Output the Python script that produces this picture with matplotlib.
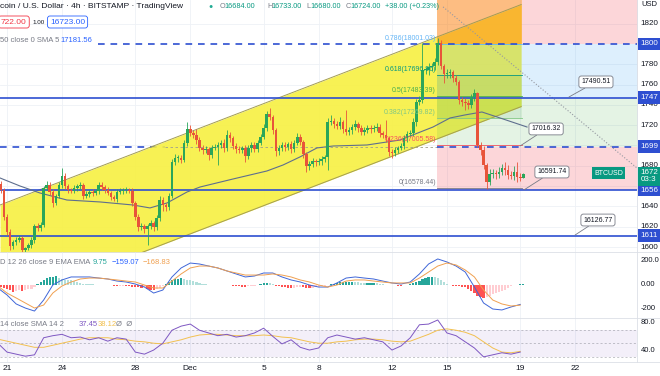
import numpy as np
import matplotlib
matplotlib.use("Agg")
import matplotlib.pyplot as plt
from matplotlib import transforms
from matplotlib.lines import Line2D

plt.rcParams["font.family"] = ["Liberation Sans", "DejaVu Sans"]

W, H = 660, 376

# 4h candles, Nov 20 16:00 -> Dec 19 04:00 (x axis in days from Nov 21)
first_open = 16620
closes = [
    16562, 16296, 16148, 16010, 16049, 16069, 16089, 15970, 15990, 16020, 16069, 16207,
    16187, 16217, 16581, 16611, 16542, 16434, 16503, 16611, 16700, 16601, 16562, 16552,
    16581, 16601, 16611, 16503, 16522, 16542, 16532, 16552, 16611, 16591, 16562, 16532,
    16493, 16473, 16542, 16552, 16562, 16562, 16552, 16434, 16296, 16197, 16207, 16177,
    16207, 16237, 16197, 16286, 16463, 16414, 16394, 16503, 16838, 16877, 16877, 16857,
    17025, 17163, 17123, 17104, 17054, 16976, 16956, 16966, 16906, 16976, 16985, 17005,
    17025, 16976, 17104, 17074, 16995, 16966, 16956, 16976, 16897, 16976, 17005, 16966,
    17025, 17084, 17173, 17310, 17281, 17153, 16946, 16976, 17005, 16985, 17015, 16966,
    17025, 17084, 17035, 16916, 16798, 16818, 16847, 16838, 16847, 16867, 16887, 17232,
    17241, 17212, 17192, 17232, 17163, 17133, 17153, 17182, 17212, 17173, 17133, 17153,
    17173, 17163, 17173, 17182, 17123, 17104, 17074, 16936, 16926, 16956, 16976, 16995,
    17074, 17113, 17123, 17232, 17429, 17448, 17744, 17744, 17773, 17783, 17823, 18010,
    17783, 17704, 17714, 17724, 17665, 17626, 17448, 17429, 17419, 17399, 17478, 17517,
    17005, 16956, 16808, 16640, 16719, 16729, 16719, 16739, 16778, 16759, 16709, 16700,
    16739, 16690, 16684, 16724,
]
upper_wick = [
    30, 20, 25, 30, 20, 25, 30, 20, 15, 20, 25, 20,
    25, 30, 20, 40, 25, 30, 20, 30, 80, 25, 20, 20,
    25, 20, 30, 20, 25, 20, 30, 20, 25, 30, 20, 25,
    20, 20, 30, 25, 20, 30, 20, 25, 20, 30, 25, 20,
    20, 30, 20, 30, 40, 30, 20, 25, 30, 40, 30, 25,
    30, 70, 40, 30, 60, 30, 25, 30, 20, 30, 25, 30,
    30, 40, 50, 30, 20, 25, 30, 20, 30, 25, 30, 25,
    30, 30, 40, 30, 60, 20, 20, 30, 25, 30, 20, 30,
    30, 40, 30, 20, 20, 25, 30, 20, 25, 30, 20, 40,
    60, 30, 25, 50, 20, 190, 30, 25, 40, 20, 25, 30,
    30, 25, 30, 40, 30, 20, 150, 20, 25, 30, 20, 30,
    30, 25, 30, 40, 30, 40, 266, 30, 40, 30, 40, 50,
    30, 20, 40, 30, 20, 30, 20, 30, 40, 30, 30, 40,
    13, 30, 40, 20, 50, 40, 30, 50, 40, 60, 50, 40,
    60, 99, 40, 9,
]
lower_wick = [
    30, 25, 30, 40, 30, 25, 20, 30, 40, 20, 30, 25,
    30, 25, 20, 20, 30, 40, 25, 20, 30, 25, 30, 20,
    20, 30, 25, 30, 20, 30, 25, 20, 30, 25, 30, 20,
    30, 20, 25, 20, 30, 25, 20, 30, 30, 40, 30, 40,
    157, 30, 40, 30, 30, 60, 40, 30, 20, 30, 40, 30,
    20, 30, 25, 30, 40, 30, 40, 30, 50, 30, 25, 177,
    30, 40, 30, 40, 30, 40, 30, 30, 60, 30, 40, 30,
    30, 25, 20, 30, 30, 40, 50, 40, 30, 40, 30, 40,
    30, 20, 30, 40, 60, 40, 30, 40, 30, 40, 30, 128,
    30, 40, 30, 30, 40, 30, 30, 40, 30, 40, 30, 30,
    30, 40, 30, 30, 40, 30, 40, 40, 46, 30, 30, 25,
    30, 40, 30, 30, 40, 30, 30, 40, 50, 40, 40, 30,
    30, 88, 40, 50, 40, 30, 40, 40, 70, 40, 30, 40,
    20, 50, 40, 69, 30, 40, 50, 40, 30, 50, 40, 30,
    40, 50, 30, 4,
]
macd_hist = [
    -20, -25, -30, -45, -55, -50, -45, -50, -42, -35, -30, -20,
    5, 25, 45, 55, 65, 70, 72, 60, 50, 45, 42, 40,
    30, 22, 17, 12, 10, 8, 5, 3, 2, 0, 0, 1,
    -2, -6, -9, -8, -6, -8, -10, -15, -18, -20, -22, -18,
    -30, -40, -42, -35, -25, -10, 10, 25, 40, 48, 52, 55,
    50, 45, 40, 30, 22, 17, 10, 5, 2, 0, 1, 0,
    0, -2, 0, -4, -6, -8, -10, -14, -16, -12, -10, -8,
    0, 8, 17, 20, 15, 8, -5, -12, -16, -20, -24, -25,
    -22, -18, -17, -20, -24, -25, -22, -20, -17, -12, -6, 0,
    8, 12, 17, 22, 25, 25, 25, 26, 25, 22, 18, 16,
    16, 17, 17, 14, 10, 8, 4, 2, 0, -4, -8, -9,
    -4, 2, 8, 15, 25, 34, 48, 60, 67, 68, 64, 59,
    45, 25, 9, 2, -5, -9, -12, -15, -17, -30, -50, -70,
    -90, -100, -108, -100, -88, -75, -68, -58, -50, -38, -25, -8,
    -4, 0, 5, 10,
]

# indicator readings every 12h, Nov 20 12:00 -> Dec 19 00:00
ind_days = np.arange(-0.5, 28.01, 0.5)
macd_line = [-25, -83, -158, -192, -217, -125, 0, 42, 67, 67, 67, 58, 50, 33, 25, 8,
             -17, -67, -42, 67, 142, 183, 175, 158, 142, 117, 92, 67, 75, 100, 100, 67,
             42, 25, 0, -17, -17, 17, 58, 67, 58, 50, 33, 17, 8, 25, 92, 175,
             217, 192, 158, 108, -17, -150, -200, -208, -183, -162]
signal_line = [-8, -67, -108, -150, -192, -167, -67, -8, 25, 50, 58, 58, 50, 42, 33, 25,
               0, -25, -25, 33, 92, 142, 158, 158, 142, 117, 100, 83, 83, 83, 92, 83,
               67, 42, 25, 0, -17, 0, 33, 42, 42, 33, 25, 17, 17, 17, 58, 108,
               158, 183, 167, 125, 67, -42, -125, -158, -175, -168]
rsi_line = [50, 37, 34, 31, 33, 58, 61, 63, 58, 59, 55, 58, 53, 58, 56, 37,
            34, 40, 50, 69, 75, 78, 69, 65, 61, 63, 59, 61, 65, 72, 60, 49,
            55, 44, 40, 43, 58, 62, 59, 56, 58, 55, 52, 40, 46, 58, 77, 78,
            84, 65, 61, 52, 43, 30, 33, 36, 34, 37]
rsi_ma = [56, 53, 50, 47, 44, 44, 47, 50, 53, 56, 58, 58, 58, 56, 55, 53,
          52, 50, 49, 52, 55, 59, 62, 63, 63, 62, 61, 61, 61, 62, 61, 59,
          58, 55, 52, 50, 50, 52, 53, 55, 56, 56, 55, 53, 52, 53, 58, 63,
          69, 71, 69, 66, 61, 52, 43, 37, 36, 38]

sma_days = [-0.38, 0.71, 1.8, 3.27, 5.07, 6.87, 7.8, 8.73, 9.82, 10.53, 12.33, 14.18,
            15.06, 15.98, 16.91, 17.79, 19.64, 21.44, 23.24, 24.17, 24.99, 25.91, 26.9, 28.37]
sma_vals = [16680, 16601, 16532, 16463, 16444, 16414, 16385, 16434, 16542, 16591, 16670, 16749,
            16808, 16887, 16976, 16995, 17005, 17054, 17182, 17271, 17301, 17330, 17271, 17182]

channel_days = [-0.38, 28.05]
channel_upper = [16414, 18388]
channel_lower = [15409, 17383]

solid_levels = [17470, 16560, 16111]
fib_ratios = ["0.786", "0.618", "0.5", "0.382", "0.236", "0"]
fib_prices = [18001.03, 17696.96, 17483.39, 17269.82, 17005.58, 16578.44]
fib_colors = ["#64b5f6", "#089981", "#4caf50", "#81c784", "#f7525f", "#787b86"]

callout_text = ["17490.51", "17016.32", "16591.74", "16126.77"]
callout_point = [(30.66, 17478), (27.99, 16995), (28.2, 16562), (30.99, 16118)]
callout_box = [(32.13, 17626), (29.41, 17163), (29.73, 16739), (32.24, 16266)]

diag_days = [23.79, 34.37]
diag_prices = [18365, 16778]

# the right scale is cut by the screenshot edge, so only the visible part is kept
price_ticks = [18200, 17800, 17600, 17400, 17200, 16800, 16400, 16200, 16000]
price_tick_text = ["1820", "1780", "1760", "1740", "1720", "1680", "1640", "1620", "1600"]
price_boxes = [(18000, "1800"), (17470, "1747"), (16990, "1699"), (16560, "1656"), (16111, "1611")]
macd_ticks = [(200, "200.0"), (0, "0.00"), (-200, "-200")]
rsi_ticks = [(80, "80.0"), (40, "40.0")]
date_ticks = [0, 3, 7, 10, 14, 17, 21, 24, 28, 31]
date_labels = ["21", "24", "28", "Dec", "5", "8", "12", "15", "19", "22"]
ohlc = [(220, "O", "16684.00"), (267, "H", "16733.00"), (306, "L", "16680.00"), (346, "C", "16724.00")]

BLUE = "#2e4fd1"
UP, DOWN = "#2aa65a", "#e8543a"
GRAY = "#787b86"


def fx(x):
    return x / W


def fy(y):
    return 1 - y / H


fig = plt.figure(figsize=(W / 100, H / 100), dpi=100)
fig.patch.set_facecolor("white")


def panel(top, bottom, ylim):
    a = fig.add_axes([0, fy(bottom), 637 / W, (bottom - top) / H])
    a.set_xlim(-0.382, 34.37)
    a.set_ylim(*ylim)
    a.axis("off")
    return a


ax = panel(0, 252, (15951, 18433))
ax_macd = panel(252, 318, (-275, 275))
ax_rsi = panel(318, 362, (22.5, 86.9))

for a in (ax, ax_macd, ax_rsi):
    for d in date_ticks:
        a.axvline(d, color="#eef1f6", lw=0.6, zorder=0)
for p in price_ticks + [17000, 16600]:
    ax.axhline(p, color="#eef1f6", lw=0.6, zorder=0)

for yy in (252, 318, 362):
    fig.add_artist(Line2D([0, 1], [fy(yy)] * 2, transform=fig.transFigure, color="#dcdfe6", lw=0.6))
fig.add_artist(Line2D([fx(637)] * 2, [fy(0), fy(362)], transform=fig.transFigure, color="#dcdfe6", lw=0.6))

# price panel: dashed levels (the middle one drawn under the channel)
dash = (0, (4, 3.5))
ax.plot([-0.4, 8.62], [16990, 16990], color=BLUE, lw=1.2, ls=dash, zorder=1)
ax.plot([8.62, 23.46], [16990, 16990], color="#a09f8c", lw=0.6, ls=(0, (3, 3)), zorder=4)
ax.plot([23.46, 34.5], [16990, 16990], color=BLUE, lw=1.2, ls=dash, zorder=5)
ax.plot([4.96, 34.5], [18000, 18000], color=BLUE, lw=1.2, ls=dash, zorder=5)

# ascending channel
ax.fill_between(channel_days, channel_lower, channel_upper, color="#f7f03c", alpha=0.88, lw=0, zorder=2)
ax.plot(channel_days, channel_upper, color="#a39d52", lw=0.7, zorder=4)
ax.plot(channel_days, channel_lower, color="#a39d52", lw=0.7, zorder=4)

# position / fib zones
tool_x = [23.46, 34.5]
fib_x = [23.46, 28.1]
ax.fill_between(tool_x, 18000, 18450, color="#f23645", alpha=0.2, lw=0, zorder=3)
ax.fill_between(tool_x, 17470, 18000, color="#2196f3", alpha=0.15, lw=0, zorder=3)
ax.fill_between(tool_x, 16990, 17470, color="#4caf50", alpha=0.15, lw=0, zorder=3)
ax.fill_between(tool_x, 16560, 16990, color="#f23645", alpha=0.2, lw=0, zorder=3)
ax.fill_between(fib_x, 18001, 18450, color="#ff9800", alpha=0.4, lw=0, zorder=3)
ax.fill_between(fib_x, 17270, 17697, color="#4caf50", alpha=0.12, lw=0, zorder=3)

for r, p, c in zip(fib_ratios, fib_prices, fib_colors):
    ax.plot(fib_x, [p, p], color=c, lw=0.6, zorder=4)
    ax.text(23.4, p + 20, f"{r}({p:.2f})", color=c, fontsize=5, ha="right", va="bottom", zorder=8)

ax.plot(diag_days, diag_prices, color="#9598a1", lw=0.8, ls=":", zorder=4)

for p in solid_levels:
    ax.axhline(p, color=BLUE, lw=1.2, zorder=5)

ax.plot(sma_days, sma_vals, color="#5e6e8e", lw=0.8, zorder=5)

# candles
n = len(closes)
days = (np.arange(n) - 2) / 6
c = np.array(closes, float)
o = np.r_[first_open, c[:-1]]
hi = np.maximum(o, c) + np.array(upper_wick)
lo = np.minimum(o, c) - np.array(lower_wick)
up = c >= o
col = np.where(up, UP, DOWN)
body = np.where(np.abs(c - o) < 10, np.where(up, 10, -10), c - o)
ax.vlines(days, lo, hi, colors=col, lw=0.6, zorder=6)
ax.bar(days, body, bottom=o, width=0.14, color=col, lw=0, zorder=7)

for t, pt, bx in zip(callout_text, callout_point, callout_box):
    ax.annotate(t, xy=pt, xytext=bx, fontsize=5, ha="center", va="center", color="#131722",
                bbox=dict(boxstyle="round,pad=0.35", fc="white", ec=GRAY, lw=0.6),
                arrowprops=dict(arrowstyle="-", color=GRAY, lw=0.6, shrinkA=0, shrinkB=0), zorder=9)

# right price scale
tp = transforms.blended_transform_factory(fig.transFigure, ax.transData)
for p, s in zip(price_ticks, price_tick_text):
    fig.text(fx(640.5), p, s, transform=tp, fontsize=5.8, color="#131722", va="center")
for p, s in price_boxes:
    fig.text(fx(640.5), p, s, transform=tp, fontsize=5.8, color="white", va="center",
             bbox=dict(boxstyle="square,pad=0.35", fc=BLUE, ec="none"))
fig.text(fx(640.5), 16695, "1672\n03:3", transform=tp, fontsize=5.8, color="white", va="center",
         linespacing=1.0, bbox=dict(boxstyle="square,pad=0.35", fc="#089981", ec="none"))
fig.text(fx(594), 16729, "BTCUSD", transform=tp, fontsize=5, color="white", va="center",
         bbox=dict(boxstyle="square,pad=0.35", fc="#089981", ec="none"))
fig.text(fx(641), fy(5), "USD", fontsize=5.5, color="#131722", va="center")

# MACD panel
hist = np.array(macd_hist, float)
prev = np.r_[hist[0], hist[:-1]]
hcol = np.where(hist >= 0, np.where(hist >= prev, "#26a69a", "#b2dfdb"),
                np.where(hist <= prev, "#ff5252", "#ffcdd2"))
ax_macd.bar(days, hist, width=0.12, color=hcol, lw=0, zorder=2)
ax_macd.plot(ind_days, macd_line, color="#3f66d8", lw=0.7, zorder=3)
ax_macd.plot(ind_days, signal_line, color="#f0a050", lw=0.7, zorder=3)
tm = transforms.blended_transform_factory(fig.transFigure, ax_macd.transData)
for v, s in macd_ticks:
    fig.text(fx(640.5), v, s, transform=tm, fontsize=5.5, color="#131722", va="center")

# RSI panel
ax_rsi.axhspan(30, 70, color="#7e57c2", alpha=0.09, lw=0, zorder=1)
for lv in (70, 50, 30):
    ax_rsi.axhline(lv, color=GRAY, lw=0.5, ls=(0, (3, 3)), alpha=0.6, zorder=2)
ax_rsi.plot(ind_days, rsi_ma, color="#f2c04f", lw=0.7, zorder=3)
ax_rsi.plot(ind_days, rsi_line, color="#7e57c2", lw=0.7, zorder=4)
tr = transforms.blended_transform_factory(fig.transFigure, ax_rsi.transData)
for v, s in rsi_ticks:
    fig.text(fx(640.5), v, s, transform=tr, fontsize=5.5, color="#131722", va="center")

# date axis
td = transforms.blended_transform_factory(ax_rsi.transData, fig.transFigure)
for d, s in zip(date_ticks, date_labels):
    fig.text(d, fy(369), s, transform=td, fontsize=6, color="#131722", ha="center", va="center")

# legends
fig.text(fx(0), fy(7), "coin / U.S. Dollar · 4h · BITSTAMP · TradingView", fontsize=6, color="#131722", va="center")
fig.text(fx(208), fy(7), "●", fontsize=5, color="#22ab94", va="center")
for x0, k, v in ohlc:
    fig.text(fx(x0), fy(7), k, fontsize=5.2, color=GRAY, va="center")
    fig.text(fx(x0 + 4.5), fy(7), v, fontsize=5.2, color="#089981", va="center")
fig.text(fx(385), fy(7), "+38.00 (+0.23%)", fontsize=5.2, color="#089981", va="center")

fig.text(fx(1), fy(22), "722.00", fontsize=6, color="#f23645", va="center",
         bbox=dict(boxstyle="round,pad=0.3", fc="white", ec="#f23645", lw=0.6))
fig.text(fx(32), fy(22), "1.00", fontsize=4.5, color="#131722", va="center")
fig.text(fx(50), fy(22), "16723.00", fontsize=6, color="#2962ff", va="center",
         bbox=dict(boxstyle="round,pad=0.3", fc="white", ec="#2962ff", lw=0.6))
fig.text(fx(0), fy(41), "50 close 0 SMA 5", fontsize=5.5, color=GRAY, va="center")
fig.text(fx(60), fy(41), "17181.56", fontsize=5.5, color="#2962ff", va="center")

fig.text(fx(0), fy(262), "D 12 26 close 9 EMA EMA", fontsize=5.5, color=GRAY, va="center")
fig.text(fx(93), fy(262), "9.75", fontsize=5.5, color="#26a69a", va="center")
fig.text(fx(112), fy(262), "\u2212159.07", fontsize=5.5, color="#2962ff", va="center")
fig.text(fx(143), fy(262), "\u2212168.83", fontsize=5.5, color="#f0a050", va="center")

fig.text(fx(0), fy(325), "14 close SMA 14 2", fontsize=5.5, color=GRAY, va="center")
fig.text(fx(79), fy(325), "37.45", fontsize=5.5, color="#7e57c2", va="center")
fig.text(fx(98), fy(325), "38.12", fontsize=5.5, color="#f2c04f", va="center")
fig.text(fx(116), fy(325), "Ø  Ø", fontsize=5.5, color=GRAY, va="center")

fig.savefig("out.png", dpi=100)
